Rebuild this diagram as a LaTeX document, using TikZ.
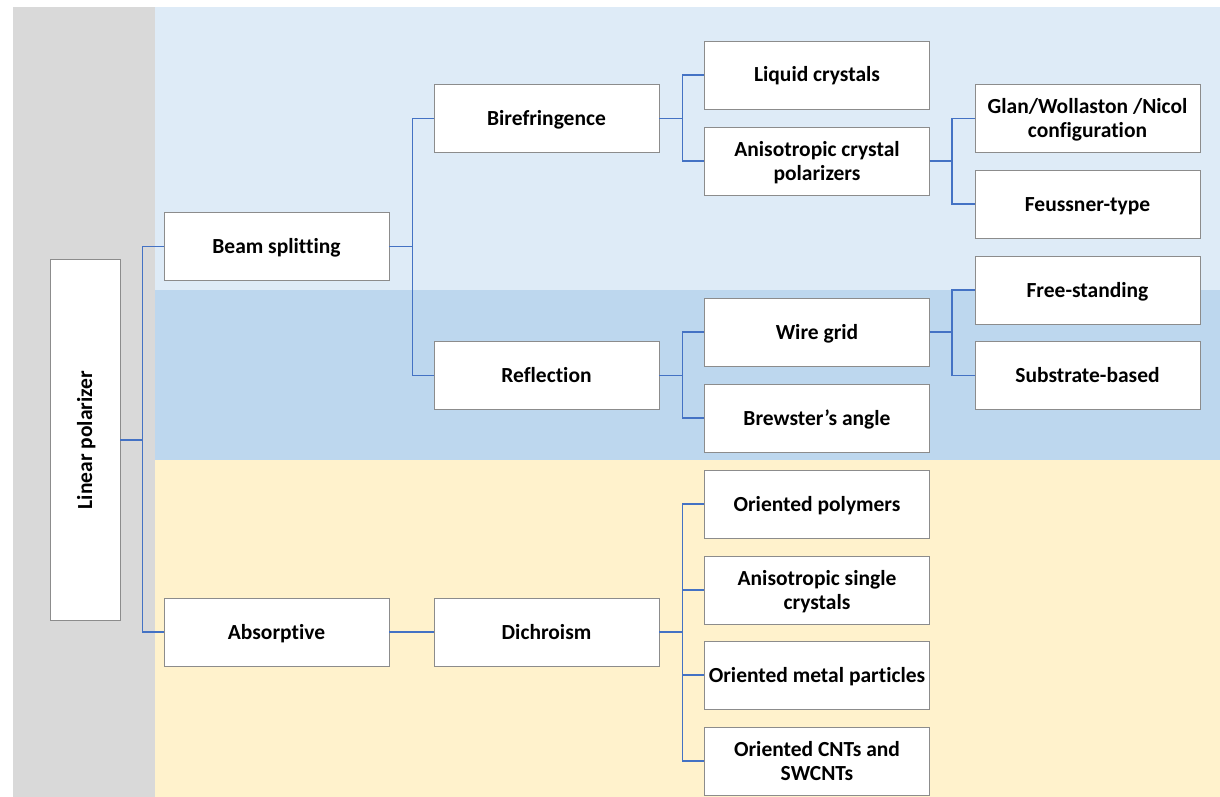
\documentclass[tikz,border=0pt]{standalone}
\usepackage{fontspec}
\setmainfont[Ligatures=NoCommon]{Carlito}
\usetikzlibrary{positioning, calc}
\definecolor{zonegray}{HTML}{D9D9D9}
\definecolor{zonesky}{HTML}{DEEBF7}
\definecolor{zoneblue}{HTML}{BDD7EE}
\definecolor{zonesand}{HTML}{FFF2CC}
\definecolor{linkblue}{HTML}{4472C4}
\definecolor{boxline}{HTML}{8C8C8C}

\tikzset{
    catbox/.style={draw=boxline, fill=white, line width=0.9pt, minimum width=225pt, minimum height=68pt,
        inner sep=2pt, align=center, text height=18pt, text depth=4pt,
        font=\fontsize{21.5}{24}\selectfont\bfseries},
    twoline/.style={text height=42pt},
    link/.style={draw=linkblue, line width=1.4pt}
}

\begin{document}
\begin{tikzpicture}[x=1pt, y=-1pt]
    \useasboundingbox (0, 0) rectangle (1220, 797);

    % background zones
    \fill[zonegray] (13, 7) rectangle (155, 797);
    \fill[zonesky] (155, 7) rectangle (1220, 290);
    \fill[zoneblue] (155, 290) rectangle (1220, 460);
    \fill[zonesand] (155, 460) rectangle (1220, 797);

    % root
    \node[catbox, minimum width=361pt, minimum height=70pt, rotate=90] (lp) at (85, 440) {Linear polarizer};

    % level 1
    \node[catbox] (bs) at (276.5, 246.5) {Beam splitting};
    \node[catbox] (ab) at (276.5, 632) {Absorptive};

    % level 2
    \node[catbox] (bf) at (546.5, 118.5) {Birefringence};
    \node[catbox] (rf) at (546.5, 375.5) {Reflection};
    \node[catbox] (dc) at (546.5, 632) {Dichroism};

    % level 3
    \node[catbox] (lc) at (817, 75) {Liquid crystals};
    \node[catbox, twoline] (acp) at (817, 161) {Anisotropic crystal\\polarizers};
    \node[catbox] (wg) at (817, 332) {Wire grid};
    \node[catbox] (ba) at (817, 418) {Brewster’s angle};
    \node[catbox] (op) at (817, 504) {Oriented polymers};
    \node[catbox, twoline] (asc) at (817, 590) {Anisotropic single\\crystals};
    \node[catbox] (omp) at (817, 675) {Oriented metal particles};
    \node[catbox, twoline] (cnt) at (817, 761) {Oriented CNTs and\\SWCNTs};

    % level 4
    \node[catbox, twoline] (gwn) at (1087.5, 118.5) {Glan/Wollaston /Nicol\\configuration};
    \node[catbox] (ft) at (1087.5, 204) {Feussner-type};
    \node[catbox] (fs) at (1087.5, 290) {Free-standing};
    \node[catbox] (sb) at (1087.5, 375.5) {Substrate-based};

    % connectors
    \draw[link] (lp.south) -- ++(22, 0) |- (bs.west);
    \draw[link] (lp.south) -- ++(22, 0) |- (ab.west);
    \draw[link] (bs.east) -- ++(23, 0) |- (bf.west);
    \draw[link] (bs.east) -- ++(23, 0) |- (rf.west);
    \draw[link] (ab.east) -- (dc.west);
    \draw[link] (bf.east) -- ++(23, 0) |- (lc.west);
    \draw[link] (bf.east) -- ++(23, 0) |- (acp.west);
    \draw[link] (rf.east) -- ++(23, 0) |- (wg.west);
    \draw[link] (rf.east) -- ++(23, 0) |- (ba.west);
    \foreach \leaf in {op, asc, omp, cnt}
        \draw[link] (dc.east) -- ++(23, 0) |- (\leaf.west);
    \draw[link] (acp.east) -- ++(22, 0) |- (gwn.west);
    \draw[link] (acp.east) -- ++(22, 0) |- (ft.west);
    \draw[link] (wg.east) -- ++(22, 0) |- (fs.west);
    \draw[link] (wg.east) -- ++(22, 0) |- (sb.west);
\end{tikzpicture}
\end{document}
